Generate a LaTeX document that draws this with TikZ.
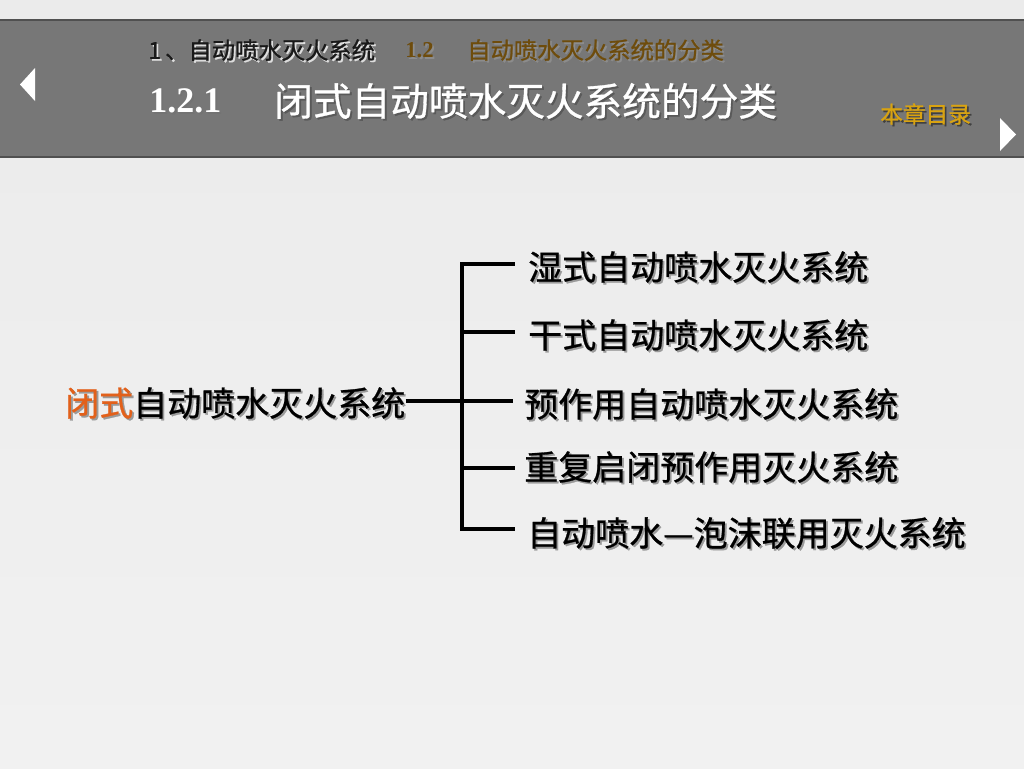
\documentclass[tikz,border=0pt]{standalone}
\usepackage{fontspec}
\newfontfamily\cjk{Noto Sans CJK SC}
\newfontfamily\cjkm[FakeBold=0.8]{Noto Sans CJK SC}
\newfontfamily\tms{Liberation Serif}
\usetikzlibrary{calc}
\definecolor{bgc}{HTML}{EBEBEB}
\definecolor{band}{HTML}{777777}
\definecolor{bandline}{HTML}{505050}
\definecolor{orng}{HTML}{E2601A}
\definecolor{brwn}{HTML}{6E4C0C}
\definecolor{gld}{HTML}{D9A310}
\definecolor{shd}{HTML}{9A9A9A}
\newcommand\stxt[5]{% name, position, style, shadow colour, text
  \node[txt,#3,text=#4] (#1s) at ($(#2)+(1.8,1.8)$) {#5};
  \node[txt,#3] (#1) at (#2) {#5};}
\begin{document}
\begin{tikzpicture}[x=0.75pt,y=-0.75pt,
  txt/.style={anchor=west,inner sep=0pt},
  body/.style={font=\cjkm\fontsize{25.5}{28}\selectfont,text=black},
  small/.style={font=\cjkm\fontsize{17.5}{20}\selectfont},
  bracket/.style={line width=3pt,line cap=rect}]
\useasboundingbox (0,0) rectangle (1024,768);
\shade[top color=bgc,bottom color=bgc!70!white] (0,0) rectangle (1024,768);
% header band
\fill[band] (0,20) rectangle (1024,157);
\draw[bandline,line width=1.5pt] (0,20) -- (1024,20);
\draw[bandline,line width=2pt] (0,157) -- (1024,157);
\fill[white] (35,68) -- (35,101) -- (20,84.5) -- cycle;
\fill[white] (1000,118) -- (1000,151) -- (1016,134.5) -- cycle;
% header texts
\stxt{h1}{148,50}{small,text=black!90}{white!75!band}{1\,、自动喷水灭火系统}
\stxt{h2}{405,50}{font=\tms\bfseries\fontsize{17}{20}\selectfont,text=brwn}{black!45}{1.2}
\stxt{h3}{467,50}{small,text=brwn}{black!45}{自动喷水灭火系统的分类}
\stxt{t1}{149,101}{font=\tms\bfseries\fontsize{27}{30}\selectfont,text=white}{black!55}{1.2.1}
\stxt{t2}{274,101}{font=\cjkm\fontsize{29}{32}\selectfont,text=white}{black!65}{闭式自动喷水灭火系统的分类}
\stxt{ml}{880,114}{font=\cjkm\fontsize{17}{20}\selectfont,text=gld}{black!75}{本章目录}
% body
\node[txt,body,text=shd] (roots) at (66.8,404.8) {闭式自动喷水灭火系统};
\node[txt,body] (root) at (65,403) {\textcolor{orng}{闭式}自动喷水灭火系统};
\stxt{i1}{528,267}{body}{shd}{湿式自动喷水灭火系统}
\stxt{i2}{528,335}{body}{shd}{干式自动喷水灭火系统}
\stxt{i3}{524,404}{body}{shd}{预作用自动喷水灭火系统}
\stxt{i4}{524,467}{body}{shd}{重复启闭预作用灭火系统}
\stxt{i5}{527,533}{body}{shd}{自动喷水—泡沫联用灭火系统}
% bracket
\coordinate (ttop) at (462,264);
\coordinate (tbot) at (462,529);
\coordinate (e1) at (513,264);
\coordinate (e2) at (513,332);
\coordinate (e3) at (513,401);
\coordinate (e4) at (513,468);
\coordinate (e5) at (513,529);
\draw[bracket] (ttop) -- (tbot);
\draw[bracket] (ttop) -- (e1);
\draw[bracket] (e2 -| ttop) -- (e2);
\draw[bracket] (e4 -| ttop) -- (e4);
\draw[bracket] (tbot) -- (e5);
\draw[line width=3pt] (root.east |- e3) -- (e3);
\end{tikzpicture}
\end{document}
